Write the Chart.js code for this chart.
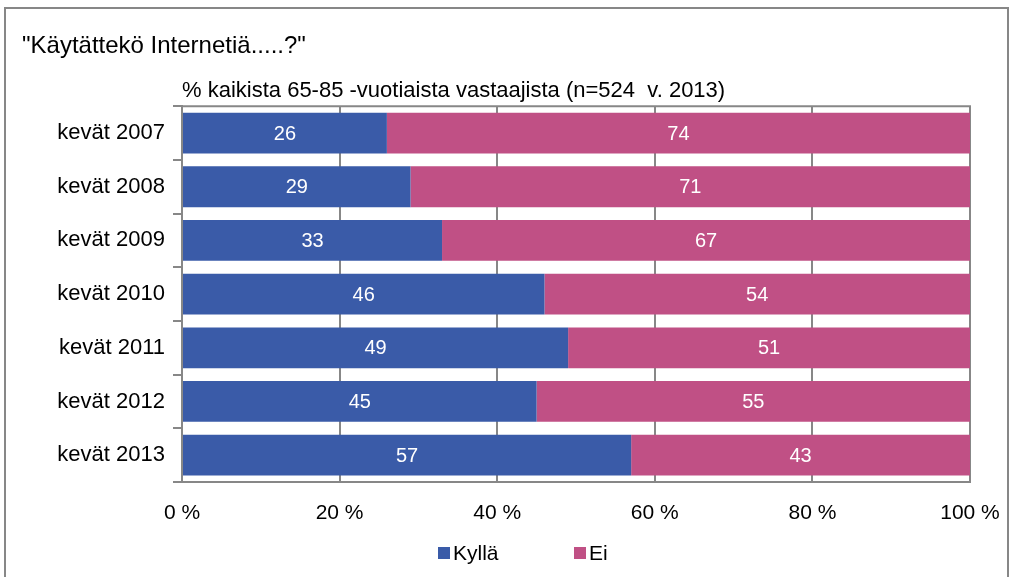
<!DOCTYPE html>
<html>
<head>
<meta charset="utf-8">
<script src="https://cdn.jsdelivr.net/npm/chart.js@4/dist/chart.umd.min.js"></script>
<style>
    body { margin: 0; background: #fff; }
    #grafico { display: block; }
</style>
</head>
<body>
<canvas id="grafico" width="1013" height="577"></canvas>
<script>
// dados
const categorias = ['kevät 2007', 'kevät 2008', 'kevät 2009', 'kevät 2010', 'kevät 2011', 'kevät 2012', 'kevät 2013'];
const kylla = [26, 29, 33, 46, 49, 45, 57];
const ei = [74, 71, 67, 54, 51, 55, 43];
const ticksX = [0, 20, 40, 60, 80, 100];

const titulo = '"Käytättekö Internetiä.....?"';
const subtitulo = '% kaikista 65-85 -vuotiaista vastaajista (n=524  v. 2013)';

const AZUL = '#3a5ba8';
const ROSA = '#c05085';
const CINZA = '#878787';
const FONTE = "'Liberation Sans', Arial, sans-serif";

// moldura externa, topo da área do gráfico, rótulos e legenda
const extras = {
    id: 'extras',
    beforeDraw(chart) {
        const ctx = chart.ctx;
        ctx.save();
        ctx.strokeStyle = CINZA;
        ctx.lineWidth = 2;
        ctx.strokeRect(5, 8, 1003, 620);
        ctx.restore();
    },
    afterDraw(chart) {
        const ctx = chart.ctx;
        const area = chart.chartArea;
        ctx.save();
        ctx.strokeStyle = CINZA;
        ctx.lineWidth = 2;
        ctx.beginPath();
        ctx.moveTo(area.left, area.top);
        ctx.lineTo(area.right + 1, area.top);
        ctx.stroke();

        // valores dentro das barras
        ctx.fillStyle = '#fff';
        ctx.font = '20px ' + FONTE;
        ctx.textAlign = 'center';
        ctx.textBaseline = 'middle';
        chart.data.datasets.forEach((ds, i) => {
            chart.getDatasetMeta(i).data.forEach((bar, j) => {
                ctx.fillText(ds.data[j], (bar.x + bar.base) / 2, bar.y + 1);
            });
        });

        // legenda
        const posX = [438, 574];
        ctx.font = '21px ' + FONTE;
        ctx.textAlign = 'left';
        chart.data.datasets.forEach((ds, i) => {
            ctx.fillStyle = ds.backgroundColor;
            ctx.fillRect(posX[i], 547, 12, 12);
            ctx.fillStyle = '#000';
            ctx.fillText(ds.label, posX[i] + 15, 554);
        });
        ctx.restore();
    }
};

function gerarGrafico() {
    const canvas = document.getElementById('grafico');
    new Chart(canvas, {
        type: 'bar',
        data: {
            labels: categorias,
            datasets: [
                { label: 'Kyllä', data: kylla, backgroundColor: AZUL, barPercentage: 0.76, categoryPercentage: 1 },
                { label: 'Ei', data: ei, backgroundColor: ROSA, barPercentage: 0.76, categoryPercentage: 1 }
            ]
        },
        options: {
            indexAxis: 'y',
            responsive: false,
            animation: false,
            layout: {
                padding: { left: 22, right: 43, top: 10, bottom: 45 }
            },
            scales: {
                x: {
                    stacked: true,
                    min: 0,
                    max: 100,
                    afterBuildTicks: (scale) => {
                        scale.ticks = ticksX.map(v => ({ value: v }));
                    },
                    afterFit: (scale) => {
                        scale.height = 50;
                        scale.paddingLeft = 0;
                        scale.paddingRight = 0;
                    },
                    ticks: {
                        color: '#000',
                        font: { family: FONTE, size: 21 },
                        padding: 19,
                        maxRotation: 0,
                        callback: (v) => v + ' %'
                    },
                    grid: { color: CINZA, lineWidth: 2, drawTicks: false },
                    border: { color: CINZA, width: 2 }
                },
                y: {
                    stacked: true,
                    afterFit: (scale) => {
                        scale.width = 160;
                        scale.paddingTop = 0;
                        scale.paddingBottom = 0;
                    },
                    ticks: {
                        color: '#000',
                        font: { family: FONTE, size: 22 },
                        padding: 8
                    },
                    grid: {
                        offset: true,
                        drawOnChartArea: false,
                        tickLength: 9,
                        color: CINZA,
                        lineWidth: 2
                    },
                    border: { color: CINZA, width: 2 }
                }
            },
            plugins: {
                legend: { display: false },
                tooltip: { enabled: false },
                title: {
                    display: true,
                    text: titulo,
                    align: 'start',
                    color: '#000',
                    font: { family: FONTE, size: 24, weight: 'normal' },
                    padding: { top: 22, bottom: 0 }
                },
                subtitle: {
                    display: true,
                    text: subtitulo,
                    align: 'start',
                    fullSize: false,
                    color: '#000',
                    font: { family: FONTE, size: 22, weight: 'normal' },
                    padding: { top: 17, bottom: 2 }
                }
            }
        },
        plugins: [extras]
    });
}

window.addEventListener('load', () => {
    gerarGrafico();
});
</script>
</body>
</html>
